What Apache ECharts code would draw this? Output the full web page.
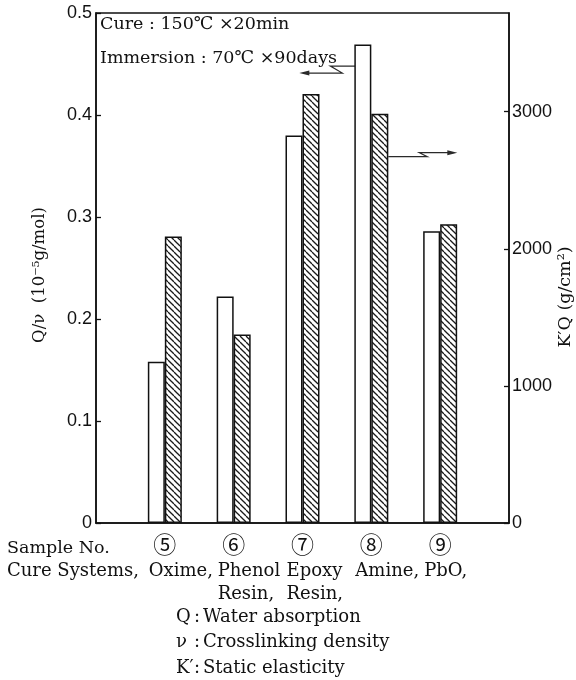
<!DOCTYPE html>
<html><head><meta charset="utf-8">
<script src="https://cdn.jsdelivr.net/npm/echarts@6/dist/echarts.min.js"></script>
<style>html,body{margin:0;padding:0;background:#fff}#c{width:576px;height:680px}</style>
</head><body><div id="c"></div>
<script>
// ---- data ----
const samples = ['⑤', '⑥', '⑦', '⑧', '⑨'];
const cureSystems = ['Oxime,', 'Phenol\nResin,', 'Epoxy\nResin,', 'Amine,', 'PbO,'];
const qNu = [0.158, 0.222, 0.380, 0.469, 0.286];      // Q/ν (10^-5 g/mol), left axis
const kq = [2090, 1375, 3130, 2985, 2180];             // K'Q (g/cm²), right axis
const leftTicks = [0, 0.1, 0.2, 0.3, 0.4, 0.5];
const rightTicks = [0, 1000, 2000, 3000];
const headerLines = ['Cure : 150℃ ×20min', 'Immersion : 70℃ ×90days'];
const notes = [['Q', 'Water absorption'], ['ν', 'Crosslinking density'], ['K′', 'Static elasticity']];

const SERIF = "'DejaVu Serif', 'Noto Sans CJK JP', serif";
const SANS = "'Liberation Sans', Arial, sans-serif";
const INK = '#111';

const xCats = [''].concat(samples, ['']);
const pad = arr => ['-'].concat(arr, ['-']);

function hatch() {
  const s = 6, c = document.createElement('canvas');
  c.width = c.height = s;
  const g = c.getContext('2d');
  g.fillStyle = '#fff'; g.fillRect(0, 0, s, s);
  g.strokeStyle = '#1a1a1a'; g.lineWidth = 1.3;
  for (const k of [-s, 0, s]) { g.beginPath(); g.moveTo(k, 0); g.lineTo(k + s, s); g.stroke(); }
  return c;
}

const chart = echarts.init(document.getElementById('c'), null, {renderer: 'canvas'});
chart.setOption({
  animation: false,
  backgroundColor: '#fff',
  grid: {left: 96, right: 67, top: 13, bottom: 157, show: true, borderColor: INK, borderWidth: 1.5, containLabel: false},
  xAxis: {
    type: 'category', data: xCats, boundaryGap: false,
    axisLine: {lineStyle: {color: INK, width: 1.5}},
    axisTick: {show: false},
    axisLabel: {interval: 0, margin: 10, fontSize: 23, color: INK, fontFamily: "'Noto Sans CJK JP', 'DejaVu Serif', serif"}
  },
  yAxis: [{
    type: 'value', position: 'left', min: leftTicks[0], max: leftTicks[leftTicks.length - 1], interval: 0.1,
    axisLine: {show: true, lineStyle: {color: INK, width: 1.5}},
    axisTick: {show: true, inside: true, length: 5, lineStyle: {color: INK, width: 1.3}},
    axisLabel: {margin: 4, fontSize: 18, color: INK, fontFamily: SANS,
      formatter: v => leftTicks.some(t => Math.abs(t - v) < 1e-9) ? String(+v.toFixed(1)) : ''},
    splitLine: {show: false}
  }, {
    type: 'value', position: 'right', min: 0, max: 3720, interval: 1000,
    axisLine: {show: true, lineStyle: {color: INK, width: 1.5}},
    axisTick: {show: true, inside: true, length: 5, lineStyle: {color: INK, width: 1.3}},
    axisLabel: {margin: 3, fontSize: 18, color: INK, fontFamily: SANS, showMaxLabel: false,
      formatter: v => rightTicks.includes(v) ? String(v) : ''},
    splitLine: {show: false}
  }],
  series: [{
    type: 'bar', name: 'Q/ν', yAxisIndex: 0, data: pad(qNu), barWidth: 17, barGap: '0%',
    itemStyle: {color: '#fff', borderColor: INK, borderWidth: 1.5}
  }, {
    type: 'bar', name: 'K′Q', yAxisIndex: 1, data: pad(kq), barWidth: 17, barGap: '0%',
    itemStyle: {color: {image: hatch(), repeat: 'repeat'}, borderColor: INK, borderWidth: 1.5}
  }]
});

function txt(text, x, y, size, extra) {
  return {
    type: 'text', x: x, y: y, silent: true,
    style: Object.assign({text: text, fill: INK, font: size + 'px ' + SERIF,
      textAlign: 'left', textVerticalAlign: 'middle', align: 'left', verticalAlign: 'middle', lineHeight: 23}, (extra || {}))
  };
}

const g = [];
// header text inside the plot
g.push(txt(headerLines[0], 100, 24, 17.5));
g.push(txt(headerLines[1], 100, 58, 17.5));
// axis titles
g.push(Object.assign(txt('Q/ν  (10⁻⁵g/mol)', 0, 0, 16.5, {align: 'center', textAlign: 'center'}), {x: 40, y: 275, rotation: Math.PI / 2}));
g.push(Object.assign(txt('K′Q (g/cm²)', 0, 0, 17.5, {align: 'center', textAlign: 'center'}), {x: 565, y: 297, rotation: Math.PI / 2}));
// bottom labels
g.push(txt('Sample No.', 7, 548, 17.5));
g.push(txt('Cure Systems,', 7, 571, 18));
cureSystems.forEach((name, i) => {
  const cx = chart.convertToPixel({xAxisIndex: 0}, samples[i]);
  g.push(Object.assign(txt(name, cx - 16, 0, 18, {verticalAlign: 'top', textVerticalAlign: 'top'}), {y: 571 - 11.5}));
});
notes.forEach((n, i) => {
  const y = 617 + i * 25.5;
  g.push(txt(n[0], 176, y, 18));
  g.push(txt(':', 194, y, 18));
  g.push(txt(n[1], 203, y, 18));
});
// arrows pointing to each series' axis (anchored on sample ⑧)
const c8 = chart.convertToPixel({xAxisIndex: 0}, samples[3]);
const yl = chart.convertToPixel({yAxisIndex: 0}, 0.448);
const yr = chart.convertToPixel({yAxisIndex: 1}, 2672);
const ls = {stroke: '#2a2a2a', lineWidth: 1.2, fill: null};
g.push({type: 'polyline', silent: true, shape: {points: [[c8 - 13, yl], [c8 - 41, yl], [c8 - 29, yl + 7], [c8 - 68, yl + 7]]}, style: ls});
g.push({type: 'polygon', silent: true, shape: {points: [[c8 - 72, yl + 7], [c8 - 62, yl + 4.5], [c8 - 62, yl + 9.5]]}, style: {fill: '#2a2a2a'}});
g.push({type: 'polyline', silent: true, shape: {points: [[c8 + 17, yr], [c8 + 56, yr], [c8 + 48, yr - 4], [c8 + 82, yr - 4]]}, style: ls});
g.push({type: 'polygon', silent: true, shape: {points: [[c8 + 86, yr - 4], [c8 + 76, yr - 6.5], [c8 + 76, yr - 1.5]]}, style: {fill: '#2a2a2a'}});

chart.setOption({graphic: {elements: g}});
</script>
</body></html>
